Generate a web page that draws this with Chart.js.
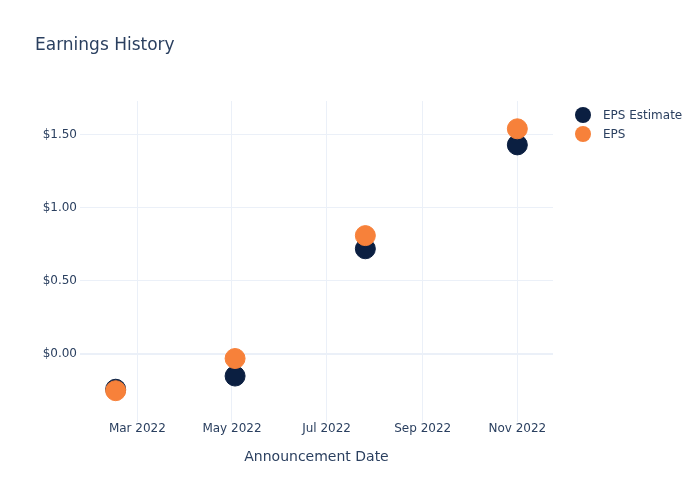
<!DOCTYPE html>
<html>
<head>
<meta charset="utf-8">
<script src="https://cdn.jsdelivr.net/npm/chart.js@4"></script>
<style>
  html, body { margin: 0; padding: 0; background: #fff; }
  #wrap { position: relative; width: 700px; height: 500px; font-family: "DejaVu Sans", sans-serif; color: #2a3f5f; }
  #title { position: absolute; left: 35px; top: 34px; font-size: 17px; }
  #legend { position: absolute; left: 575px; top: 105px; font-size: 12px; }
  .item { display: flex; align-items: center; height: 19px; }
  .dot { width: 16px; height: 16px; border-radius: 50%; margin-right: 12px; }
</style>
</head>
<body>
<div id="wrap">
  <canvas id="c" width="700" height="500"></canvas>
  <div id="title">Earnings History</div>
  <div id="legend">
    <div class="item"><span class="dot" style="background:#0b1f41"></span>EPS Estimate</div>
    <div class="item"><span class="dot" style="background:#f7813a"></span>EPS</div>
  </div>
</div>
<script>
// данные
const DATES = ['2022-02-15', '2022-05-03', '2022-07-26', '2022-11-01'];
const EPS_ESTIMATE = [-0.24, -0.15, 0.72, 1.43];
const EPS = [-0.25, -0.03, 0.81, 1.54];
const X_TICKS = ['2022-03-01', '2022-05-01', '2022-07-01', '2022-09-01', '2022-11-01'];
const Y_TICKS = [0, 0.5, 1, 1.5];

const NAVY = '#0b1f41';
const ORANGE = '#f7813a';
const TEXT = '#2a3f5f';
const GRID = '#ebf0f8';
const MONTHS = ['Jan','Feb','Mar','Apr','May','Jun','Jul','Aug','Sep','Oct','Nov','Dec'];

const DAY = 86400000;
const t = s => Date.parse(s + 'T00:00:00Z') / DAY;

function points(vals) {
  return DATES.map((d, i) => ({ x: t(d), y: vals[i] }));
}

function monthLabel(v) {
  const d = new Date(v * DAY);
  return MONTHS[d.getUTCMonth()] + ' ' + d.getUTCFullYear();
}

new Chart(document.getElementById('c'), {
  type: 'scatter',
  data: {
    datasets: [
      // order: EPS рисуется поверх оценки
      { label: 'EPS Estimate', order: 1, data: points(EPS_ESTIMATE), backgroundColor: NAVY, borderColor: NAVY, pointRadius: 10, pointHoverRadius: 10 },
      { label: 'EPS', order: 0, data: points(EPS), backgroundColor: ORANGE, borderColor: ORANGE, pointRadius: 10, pointHoverRadius: 10 }
    ]
  },
  options: {
    responsive: false,
    animation: false,
    layout: { padding: { left: 0, right: 147, top: 101, bottom: 30 } },
    plugins: { legend: { display: false }, tooltip: { enabled: false } },
    scales: {
      x: {
        type: 'linear',
        min: t('2022-01-23'),
        max: t('2022-11-24'),
        afterBuildTicks: s => { s.ticks = X_TICKS.map(d => ({ value: t(d) })); },
        afterFit: s => { s.height = 48; },
        grid: { color: GRID, drawTicks: false },
        border: { display: false },
        ticks: { color: TEXT, font: { family: 'DejaVu Sans', size: 12 }, padding: 0, maxRotation: 0, callback: v => monthLabel(v) },
        title: { display: true, text: 'Announcement Date', color: TEXT, font: { family: 'DejaVu Sans', size: 14 }, padding: { top: 10 } }
      },
      y: {
        min: -0.464,
        max: 1.73,
        afterBuildTicks: s => { s.ticks = Y_TICKS.map(v => ({ value: v })); },
        afterFit: s => { s.width = 80; },
        grid: {
          color: GRID,
          drawTicks: false,
          lineWidth: c => (c.tick && c.tick.value === 0 ? 2 : 1)
        },
        border: { display: false },
        ticks: { color: TEXT, font: { family: 'DejaVu Sans', size: 12 }, padding: 3, callback: v => '$' + v.toFixed(2) }
      }
    }
  }
});
</script>
</body>
</html>
